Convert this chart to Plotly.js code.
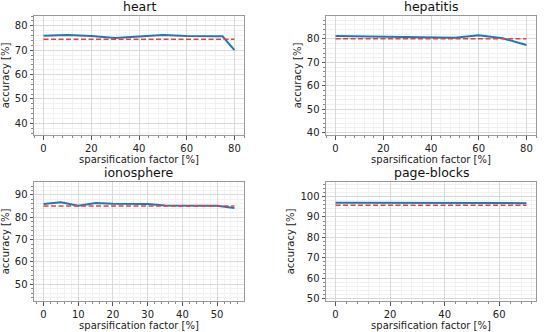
<!DOCTYPE html>
<html>
<head>
<meta charset="utf-8">
<script src="https://cdn.plot.ly/plotly-3.0.1.min.js"></script>
<style>html,body{margin:0;padding:0;background:#fff;}#chart{width:550px;height:332px;}</style>
</head>
<body>
<div id="chart"></div>
<script>
// ---- data ----
const titles = ["heart", "hepatitis", "ionosphere", "page-blocks"];

const heartX = [0, 10, 20, 30, 40, 50, 60, 70, 75, 80];
const heartY = [75.9, 76.2, 75.8, 75.0, 75.6, 76.2, 75.8, 75.7, 75.7, 70.0];
const heartBase = 74.5;

const hepatitisX = [0, 10, 20, 30, 40, 50, 60, 70, 80];
const hepatitisY = [81.3, 81.2, 81.0, 80.8, 80.6, 80.5, 81.6, 80.3, 77.4];
const hepatitisBase = 80.1;

const ionosphereX = [0, 5, 10, 15, 20, 25, 30, 35, 40, 45, 50, 55];
const ionosphereY = [86.0, 86.7, 85.2, 86.4, 86.1, 86.1, 86.0, 85.3, 85.2, 85.2, 85.2, 84.2];
const ionosphereBase = 85.0;

const pageblocksX = [0, 10, 20, 30, 40, 50, 60, 70];
const pageblocksY = [97.0, 97.0, 97.0, 97.0, 97.0, 96.9, 96.9, 96.8];
const pageblocksBase = 95.8;

const xTitle = "sparsification factor [%]";
const yTitle = "accuracy [%]";

// ---- layout helpers ----
const W = 550, H = 332;
const panels = [
  {x: heartX, y: heartY, base: heartBase, dom: [34, 244, 16, 135], xr: [-4, 84], yr: [35.2, 84], xd: 20, yd: 10, xm: 4, ym: 2},
  {x: hepatitisX, y: hepatitisY, base: hepatitisBase, dom: [326, 536, 16, 135], xr: [-4, 84], yr: [39, 89.8], xd: 20, yd: 10, xm: 4, ym: 2},
  {x: ionosphereX, y: ionosphereY, base: ionosphereBase, dom: [34, 244, 182, 301], xr: [-2.75, 57.75], yr: [42.5, 95.8], xd: 10, yd: 10, xm: 2, ym: 2},
  {x: pageblocksX, y: pageblocksY, base: pageblocksBase, dom: [326, 536, 182, 301], xr: [-3.5, 73.5], yr: [48.7, 107.2], xd: 20, yd: 10, xm: 4, ym: 2}
];

const FONT = "DejaVu Sans, sans-serif";
const traces = [];
const layout = {
  width: W, height: H,
  margin: {l: 0, r: 0, t: 0, b: 0},
  paper_bgcolor: "#fff", plot_bgcolor: "#fff",
  showlegend: false,
  font: {family: FONT, size: 10, color: "#222"},
  annotations: []
};

panels.forEach((p, i) => {
  const n = i + 1;
  const xa = "x" + (n === 1 ? "" : n), ya = "y" + (n === 1 ? "" : n);
  traces.push({
    x: p.x, y: p.y, xaxis: xa, yaxis: ya, type: "scatter", mode: "lines",
    line: {color: "#1f77b4", width: 2}, hoverinfo: "skip"
  });
  traces.push({
    x: [p.x[0], p.x[p.x.length - 1]], y: [p.base, p.base], xaxis: xa, yaxis: ya,
    type: "scatter", mode: "lines",
    line: {color: "#f03c3c", width: 1.5, dash: "5px,2.5px"}, hoverinfo: "skip"
  });
  const [l, r, t, b] = p.dom;
  const common = {
    showline: true, mirror: true, linecolor: "#999", linewidth: 1,
    ticks: "outside", ticklen: 3.5, tickwidth: 1, tickcolor: "#555",
    showgrid: true, gridcolor: "#dadada", gridwidth: 1,
    zeroline: false, automargin: false,
    tickfont: {family: FONT, size: 10, color: "#222"}
  };
  layout["xaxis" + (n === 1 ? "" : n)] = Object.assign({}, common, {
    domain: [l / W, r / W], anchor: ya, range: p.xr, dtick: p.xd, tick0: 0,
    title: {text: xTitle, font: {family: FONT, size: 10, color: "#222"}, standoff: 1},
    minor: {dtick: p.xm, tick0: 0, ticks: "outside", ticklen: 2, tickcolor: "#888", showgrid: true, gridcolor: "#f1f1f1"}
  });
  layout["yaxis" + (n === 1 ? "" : n)] = Object.assign({}, common, {
    domain: [1 - b / H, 1 - t / H], anchor: xa, range: p.yr, dtick: p.yd, tick0: 0,
    title: {text: yTitle, font: {family: FONT, size: 10, color: "#222"}, standoff: 3},
    minor: {dtick: p.ym, tick0: 0, ticks: "outside", ticklen: 2, tickcolor: "#888", showgrid: true, gridcolor: "#f1f1f1"}
  });
  layout.annotations.push({
    text: titles[i], xref: "paper", yref: "paper",
    x: ((l + r) / 2) / W, y: 1 - t / H, xanchor: "center", yanchor: "bottom",
    showarrow: false, font: {family: FONT, size: 12.5, color: "#111"}
  });
});

Plotly.newPlot("chart", traces, layout, {staticPlot: true, displayModeBar: false});
</script>
</body>
</html>
